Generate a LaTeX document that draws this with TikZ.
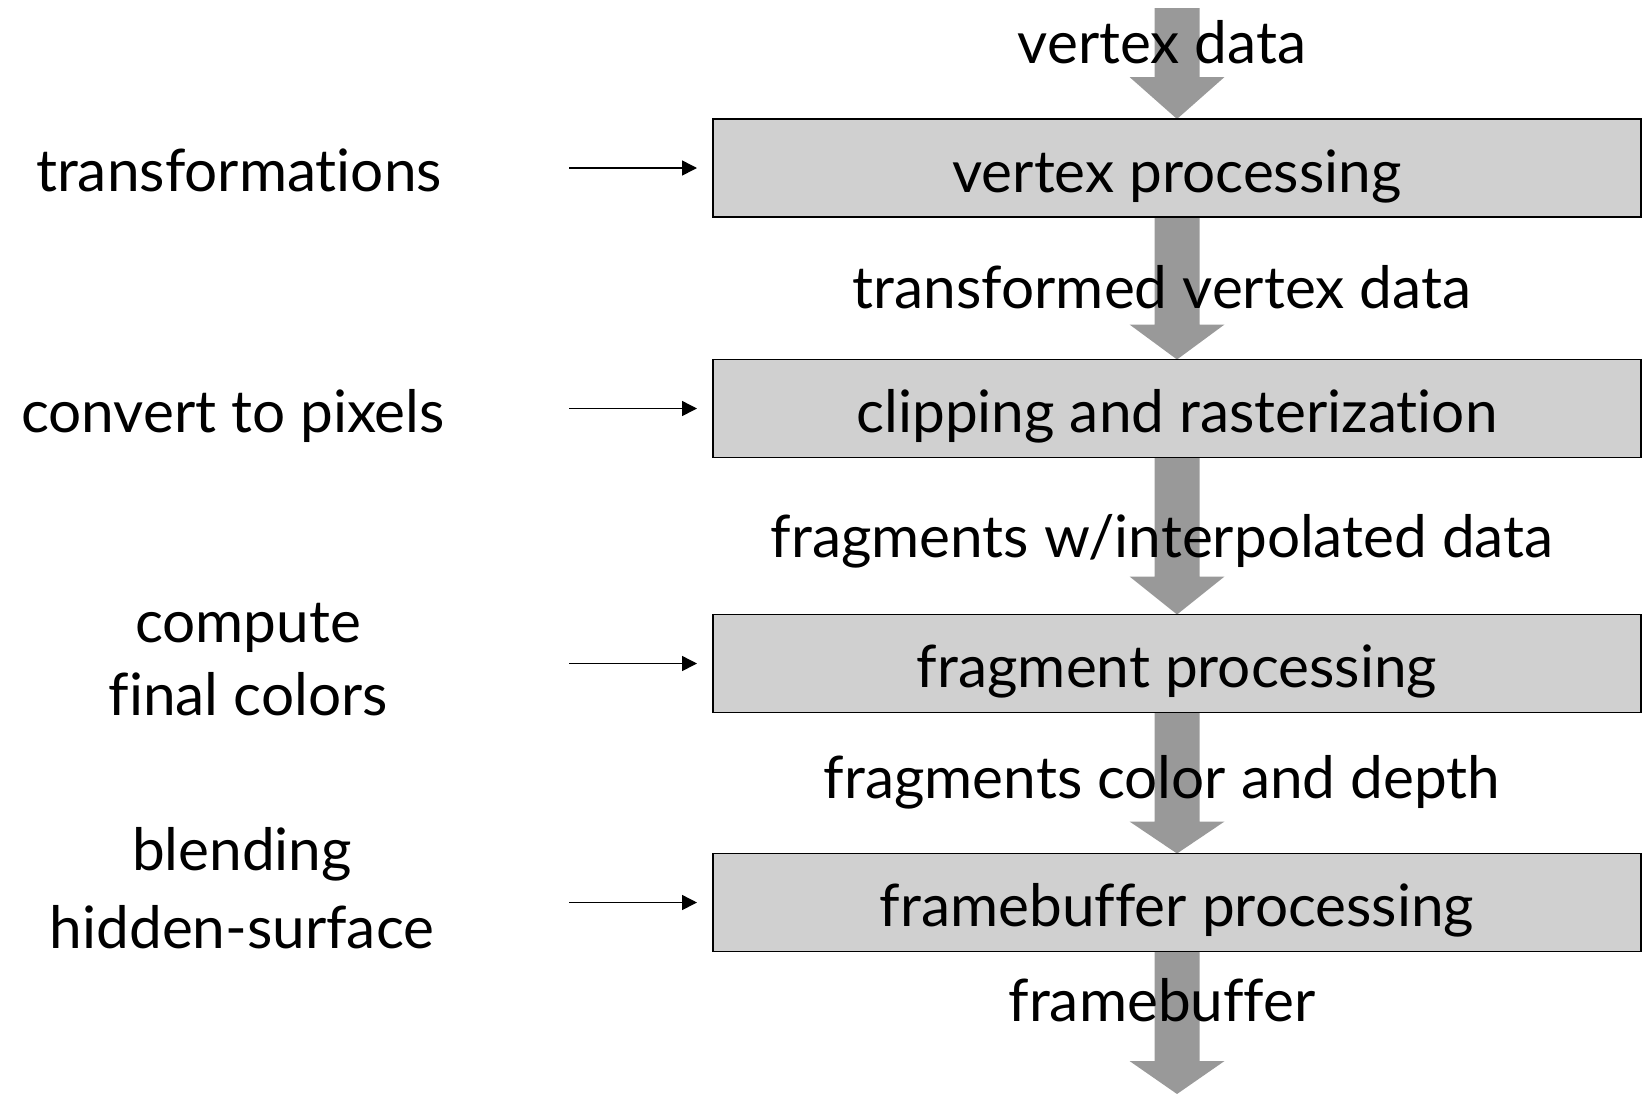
\documentclass[tikz,border=0pt]{standalone}
\usepackage{fontspec}
\setmainfont{Lato}[Ligatures=NoCommon]
\usetikzlibrary{calc,arrows.meta}
\pgfdeclarelayer{background}
\pgfsetlayers{background,main}
\definecolor{arrowgray}{HTML}{999999}
\definecolor{boxgray}{HTML}{D0D0D0}
\newcommand{\fatarrow}[3]{%
  \fill[arrowgray] ($(#1)+(-22.5,0)$) -- ($(#2)+(-22.5,-#3)$) -- ($(#2)+(-47.5,-#3)$) -- (#2)
    -- ($(#2)+(47.5,-#3)$) -- ($(#2)+(22.5,-#3)$) -- ($(#1)+(22.5,0)$) -- cycle;}
\begin{document}
\begin{tikzpicture}[x=1pt,y=-1pt,
  every node/.style={font=\fontsize{58.5}{76}\selectfont, inner sep=0pt},
  stagebox/.style={draw=black, line width=1.5pt, fill=boxgray, minimum width=928pt,
     minimum height=98pt, text height=62pt, text depth=14pt, outer sep=0pt},
  flowlabel/.style={anchor=base},
  sidelabel/.style={anchor=base, align=center},
  sidearrow/.style={line width=1.5pt, -{Triangle[length=15pt,width=15pt]}, shorten >=16pt}]
\useasboundingbox (0,0) rectangle (1645,1093);
% boxes
\node[stagebox] (b1) at (1177,168)   {vertex processing};
\node[stagebox] (b2) at (1177,408.5) {clipping and rasterization};
\node[stagebox] (b3) at (1177,663.5) {fragment processing};
\node[stagebox] (b4) at (1177,902.5) {framebuffer processing};
\coordinate (top) at (1177,8);
\coordinate (bottom) at (1177,1094);
% fat arrows behind boxes
\begin{pgfonlayer}{background}
\fatarrow{top}{b1.north}{42}
\fatarrow{b1.south}{b2.north}{35}
\fatarrow{b2.south}{b3.north}{38}
\fatarrow{b3.south}{b4.north}{32}
\fatarrow{b4.south}{bottom}{33}
\end{pgfonlayer}
% flow labels
\node[flowlabel] (l0) at (1162,63) {vertex data};
\node[flowlabel] (l1) at (1162,308) {transformed vertex data};
\node[flowlabel] (l2) at (1162,557) {fragments w/interpolated data};
\node[flowlabel] (l3) at (1162,798) {fragments color and depth};
\node[flowlabel] (l4) at (1162,1021) {framebuffer};
% side labels (base = last line)
\node[sidelabel] (s1) at (239,191) {transformations};
\node[sidelabel] (s2) at (233,432) {convert to pixels};
\node[sidelabel, font=\fontsize{58.5}{73}\selectfont] (s3) at (248,715) {compute\\final colors};
\node[sidelabel, font=\fontsize{58.5}{78}\selectfont] (s4) at (242,948) {blending\\hidden-surface};
% side arrows
\coordinate (a1) at (569,168);
\coordinate (a2) at (569,408.5);
\coordinate (a3) at (569,663.5);
\coordinate (a4) at (569,902.5);
\draw[sidearrow] (a1) -- (b1.west);
\draw[sidearrow] (a2) -- (b2.west);
\draw[sidearrow] (a3) -- (b3.west);
\draw[sidearrow] (a4) -- (b4.west);
\end{tikzpicture}
\end{document}
